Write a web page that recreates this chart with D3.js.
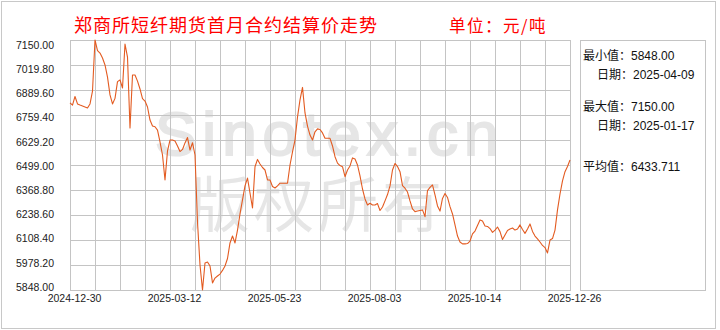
<html>
  <head>
    <script src="https://d3js.org/d3.v7.min.js"></script>
    <meta charset="UTF-8">
  </head>

  <body style="margin:0; background:#fff;">
    <div id="chart"></div>

    <script>
    // settlement price, first-month contract, one value per step along the x axis
    var prices = [
      6823, 6811, 6856, 6817, 6811, 6806, 6801, 6796, 6817, 6884,
      7150, 7095, 7082, 7056, 7020, 6957, 6864, 6817, 6846, 6933,
      6942, 6900, 7129, 7061, 6692, 6968, 6968, 6936, 6895, 6845,
      6832, 6801, 6733, 6702, 6698, 6681, 6619, 6551, 6421, 6572,
      6629, 6629, 6624, 6598, 6569, 6580, 6614, 6642, 6577, 6615,
      6551, 6202, 5978, 5848, 5989, 5994, 5973, 5885, 5910, 5921,
      5931, 5950, 5973, 6012, 6093, 6129, 6093, 6160, 6244, 6317,
      6390, 6431, 6353, 6275, 6490, 6528, 6504, 6486, 6473, 6421,
      6421, 6387, 6379, 6390, 6404, 6404, 6404, 6404, 6499, 6567,
      6629, 6749, 6838, 6903, 6770, 6702, 6655, 6629, 6672, 6687,
      6684, 6666, 6638, 6638, 6638, 6598, 6542, 6509, 6496, 6490,
      6438, 6473, 6494, 6536, 6530, 6499, 6442, 6374, 6322, 6291,
      6300, 6291, 6291, 6298, 6262, 6280, 6312, 6345, 6390, 6473,
      6507, 6491, 6464, 6392, 6378, 6358, 6312, 6270, 6256, 6259,
      6262, 6265, 6230, 6366, 6382, 6395, 6343, 6286, 6259, 6325,
      6351, 6330, 6282, 6244, 6187, 6129, 6098, 6088, 6088, 6090,
      6103, 6140, 6155, 6184, 6213, 6207, 6181, 6179, 6168, 6148,
      6160, 6176, 6152, 6111, 6134, 6158, 6166, 6171, 6160, 6166,
      6187, 6163, 6143, 6166, 6192, 6153, 6129, 6114, 6098, 6080,
      6069, 6041, 6108, 6116, 6160, 6265, 6348, 6416, 6464, 6491,
      6525
    ];

    var xLabels = ["2024-12-30", "2025-03-12", "2025-05-23", "2025-08-03", "2025-10-14", "2025-12-26"];
    var yTicks = [7150.00, 7019.80, 6889.60, 6759.40, 6629.20, 6499.00, 6368.80, 6238.60, 6108.40, 5978.20, 5848.00];

    var statNames = ["最小值：", "日期：", "最大值：", "日期：", "平均值："];
    var statValues = ["5848.00", "2025-04-09", "7150.00", "2025-01-17", "6433.711"];

    var title = "郑商所短纤期货首月合约结算价走势";
    var unit = "单位：元/吨";

    var W = 720, H = 330;
    var plotL = 70, plotR = 570, plotT = 40, plotB = 290;
    var gridCols = 20;
    var gridCol = "#c4c4c4";
    var textFont = "'Liberation Sans', 'Noto Sans CJK SC', sans-serif";

    var svg = d3.select("#chart").append("svg")
        .attr("width", W)
        .attr("height", H);

    svg.append("rect")
        .attr("x", 1.5).attr("y", 1.5)
        .attr("width", 714).attr("height", 327)
        .attr("fill", "#fff")
        .attr("stroke", "#c8c8c8");

    // watermark
    svg.append("text")
        .attr("x", 155).attr("y", 155)
        .attr("font-family", "'Liberation Sans', Arial, sans-serif")
        .attr("font-size", 62)
        .attr("letter-spacing", 6)
        .attr("stroke", "#e6e6e6")
        .attr("stroke-width", 2)
        .attr("fill", "#e6e6e6")
        .text("Sinotex.cn");
    svg.append("text")
        .attr("x", 190).attr("y", 200)
        .attr("dominant-baseline", "central")
        .attr("font-family", "'Noto Sans CJK SC', sans-serif")
        .attr("font-size", 60)
        .attr("letter-spacing", 4)
        .attr("fill", "#e6e6e6")
        .text("版权所有");

    var x = d3.scaleLinear().domain([0, prices.length - 1]).range([plotL, plotR]);
    var y = d3.scaleLinear().domain([d3.min(yTicks), d3.max(yTicks)]).range([plotB, plotT]);
    var gx = d3.scaleLinear().domain([0, gridCols]).range([plotL, plotR]);

    var grid = svg.append("g").attr("stroke", gridCol).attr("stroke-width", 1);
    grid.selectAll("line.v")
        .data(d3.range(gridCols + 1))
        .enter().append("line")
        .attr("class", "v")
        .attr("x1", d => Math.round(gx(d)) + 0.5).attr("x2", d => Math.round(gx(d)) + 0.5)
        .attr("y1", plotT).attr("y2", plotB + 1);
    grid.selectAll("line.h")
        .data(yTicks)
        .enter().append("line")
        .attr("class", "h")
        .attr("x1", plotL).attr("x2", plotR + 1)
        .attr("y1", d => Math.round(y(d)) + 0.5).attr("y2", d => Math.round(y(d)) + 0.5);

    // y labels sit on their own spacing, not exactly on the grid lines
    var yLab = d3.scaleLinear().domain(y.domain()).range([287, 45]);
    var yAxis = svg.append("g")
        .attr("transform", "translate(54,0)")
        .call(d3.axisLeft(yLab).tickValues(yTicks).tickFormat(d3.format(".2f")).tickSize(0).tickPadding(0));
    yAxis.select(".domain").remove();
    yAxis.attr("font-family", textFont).attr("font-size", 10.5);
    yAxis.selectAll("text").attr("fill", "#222");

    var xLab = d3.scaleLinear().domain([0, xLabels.length - 1]).range([plotL + 4, plotR + 4]);
    var xAxis = svg.append("g")
        .attr("transform", "translate(0,295)")
        .call(d3.axisBottom(xLab).tickValues(d3.range(xLabels.length)).tickFormat(i => xLabels[i]).tickSize(0).tickPadding(0));
    xAxis.select(".domain").remove();
    xAxis.attr("font-family", textFont).attr("font-size", 10.5);
    xAxis.selectAll("text").attr("fill", "#222");

    var line = d3.line()
        .x((d, i) => x(i))
        .y(d => y(d));

    svg.append("path")
        .datum(prices)
        .attr("d", line)
        .attr("fill", "none")
        .attr("stroke", "#e35b21")
        .attr("stroke-width", 1.1)
        .attr("stroke-linejoin", "round");

    // title and unit
    svg.append("text")
        .attr("x", 74).attr("y", 24)
        .attr("dominant-baseline", "central")
        .attr("font-family", "'Noto Sans CJK SC', sans-serif")
        .attr("font-size", 18)
        .attr("letter-spacing", 1)
        .attr("fill", "#f00")
        .text(title);
    svg.append("text")
        .attr("x", 449).attr("y", 25)
        .attr("dominant-baseline", "central")
        .attr("font-family", "'Noto Sans CJK SC', sans-serif")
        .attr("font-size", 16.5)
        .attr("letter-spacing", 1.5)
        .attr("fill", "#f00")
        .text(unit);

    // stats panel
    svg.append("rect")
        .attr("x", 580.5).attr("y", 40.5)
        .attr("width", 125).attr("height", 250)
        .attr("fill", "none")
        .attr("stroke", gridCol);

    var statY = [56, 75, 107, 126, 167];
    var statX = [583, 597, 583, 597, 583];
    var rows = svg.append("g")
        .attr("font-family", textFont)
        .attr("font-size", 12)
        .attr("fill", "#111");
    rows.selectAll("text")
        .data(statNames)
        .enter().append("text")
        .attr("x", (d, i) => statX[i])
        .attr("y", (d, i) => statY[i])
        .attr("dominant-baseline", "central")
        .text((d, i) => d + statValues[i]);
    </script>
  </body>
</html>
